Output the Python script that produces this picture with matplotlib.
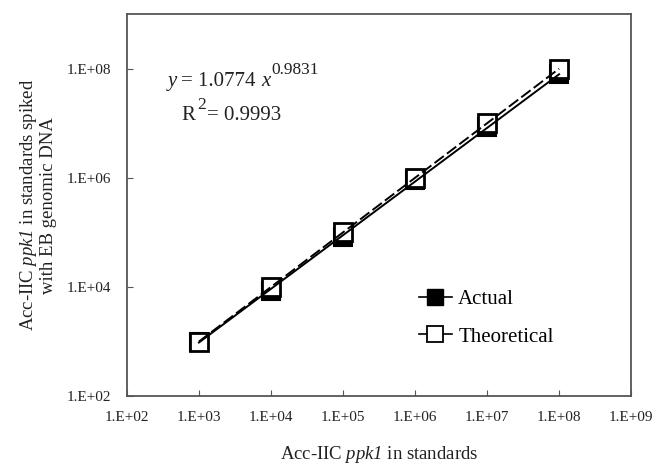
import matplotlib
matplotlib.use("Agg")
import matplotlib.pyplot as plt
from matplotlib.lines import Line2D

plt.rcParams['font.family'] = ['Liberation Serif', 'DejaVu Serif']
plt.rcParams['mathtext.fontset'] = 'custom'
plt.rcParams['mathtext.rm'] = 'Liberation Serif'
plt.rcParams['mathtext.it'] = 'Liberation Serif:italic'
plt.rcParams['mathtext.sf'] = 'Liberation Serif:italic'

# Data
standards = [1e3, 1e4, 1e5, 1e6, 1e7, 1e8]
actual = [1.0e3, 8.3e3, 8.4e4, 9.3e5, 8.4e6, 8.0e7]
theoretical = [1e3, 1e4, 1e5, 1e6, 1e7, 1e8]
fit_a, fit_b = 1.0774, 0.9831
x_ticks = [1e2, 1e3, 1e4, 1e5, 1e6, 1e7, 1e8, 1e9]
x_ticklabels = ["1.E+02", "1.E+03", "1.E+04", "1.E+05", "1.E+06", "1.E+07", "1.E+08", "1.E+09"]
y_ticks = [1e2, 1e4, 1e6, 1e8]
y_ticklabels = ["1.E+02", "1.E+04", "1.E+06", "1.E+08"]

fig = plt.figure(figsize=(6.54, 4.71), dpi=100)
ax = fig.add_axes([0.194, 0.159, 0.771, 0.811])

ax.plot(standards, actual, ls='none', marker='s', ms=12.5, mfc='black', mec='black', mew=1.5, zorder=2)
ax.plot(standards, theoretical, ls='none', marker='s', ms=12.5, mfc='white', mec='black', mew=2.0, zorder=3)

fit_y = [fit_a * x ** fit_b for x in standards]
ax.plot(standards, fit_y, color='black', lw=1.4, zorder=4)
ax.plot(theoretical, theoretical, color='black', lw=1.4, ls=(0, (6, 2)), zorder=4)

ax.set_xscale('log')
ax.set_yscale('log')
ax.set_xlim(1e2, 1e9)
ax.set_ylim(1e2, 1e9)
ax.set_xticks(x_ticks)
ax.set_xticklabels(x_ticklabels)
ax.set_yticks(y_ticks)
ax.set_yticklabels(y_ticklabels)
ax.minorticks_off()
ax.tick_params(axis='both', direction='in', length=4, width=0.8, labelsize=11,
               colors='#555555', labelcolor='#222222')
ax.tick_params(axis='x', pad=11)
ax.tick_params(axis='y', pad=11)
for s in ax.spines.values():
    s.set_color('#555555')
    s.set_linewidth(1.3)

ax.set_xlabel(r"Acc-IIC $\mathsf{ppk1}$ in standards", fontsize=13.5, labelpad=14, color='#222222')
ax.set_ylabel("Acc-IIC $\\mathsf{ppk1}$ in standards spiked\nwith EB genomic DNA", fontsize=13.5,
              labelpad=7, color='#222222', linespacing=1.1)

# Trendline equation with Excel-style superscripts, placed piece by piece
fig.canvas.draw()
r = fig.canvas.get_renderer()
W = fig.bbox.width


def put_pieces(x0, y0, pieces):
    x = x0
    for txt, size, style, dy, gap in pieces:
        t = fig.text(x, y0 + dy, txt, fontsize=size, fontstyle=style, color='#222222')
        bb = t.get_window_extent(r)
        x = (bb.x1 + gap) / W


put_pieces(0.257, 0.818, [
    ("y", 15, 'italic', 0, 4),
    ("= 1.0774 ", 15, 'normal', 0, 0),
    ("x", 15, 'italic', 0, 1),
    ("0.9831", 12.5, 'normal', 0.024, 0),
])
put_pieces(0.278, 0.745, [
    ("R", 15, 'normal', 0, 2),
    ("2", 12.5, 'normal', 0.024, 1),
    ("= 0.9993", 15, 'normal', 0, 0),
])

handles = [
    Line2D([], [], color='black', lw=1.2, marker='s', ms=11, mfc='black', mec='black'),
    Line2D([], [], color='black', lw=1.2, marker='s', ms=11, mfc='white', mec='black', mew=1.3),
]
fig.legend(handles, ["Actual", "Theoretical"], loc='upper left', bbox_to_anchor=(0.64, 0.385),
           frameon=False, fontsize=15, handlelength=1.6, handletextpad=0.3, labelspacing=0.85,
           borderaxespad=0, borderpad=0)

fig.savefig("out.png", dpi=100)
